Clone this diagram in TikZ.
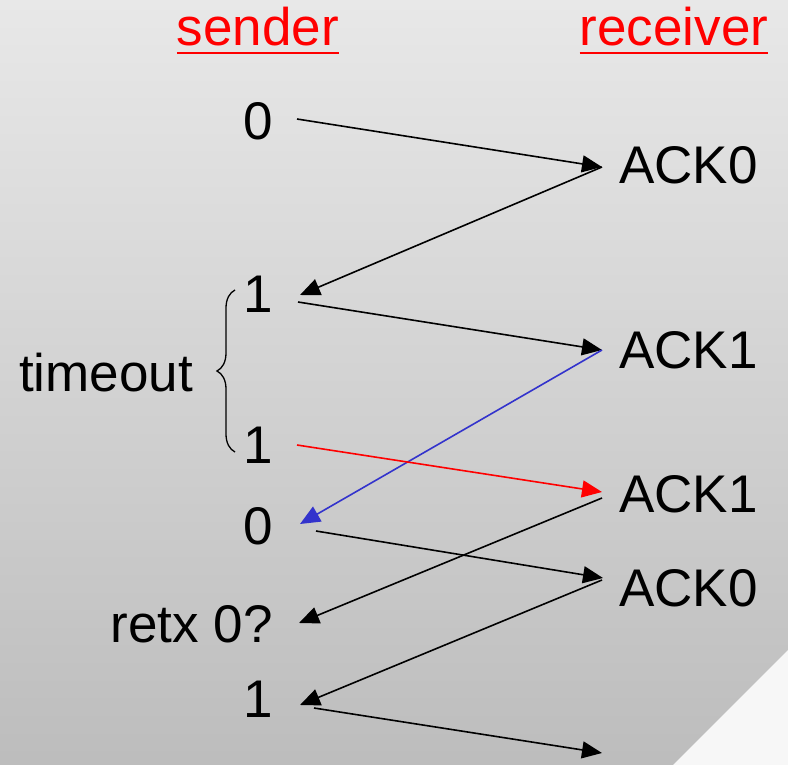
\documentclass[tikz,border=0pt]{standalone}
\usepackage{fontspec}
\setmainfont{Liberation Sans}
\usetikzlibrary{arrows.meta,decorations.pathreplacing,calc}

\definecolor{ackblue}{RGB}{51,51,204}

\begin{document}
\begin{tikzpicture}[x=1pt,y=-1pt,font=\fontsize{53}{60}\selectfont,
  hdr/.style={inner sep=0pt,anchor=base,text=red},
  pkt/.style={inner sep=0pt,anchor=base east},
  ack/.style={inner sep=0pt,anchor=base west},
  msg/.style={line width=1.6pt,-{Triangle[length=20pt,width=17pt]}}]
\useasboundingbox (0,0) rectangle (788,765);
\shade[top color=black!9,bottom color=black!26] (0,0) rectangle (788,765);
\fill[black!3] (673,765) -- (788,650) -- (788,765) -- cycle;

\node[hdr] (sender) at (258,46) {sender};
\node[hdr] (receiver) at (674,46) {receiver};
\draw[red,line width=2.5pt] ($(sender.base west)+(0,7)$) -- ($(sender.base east)+(0,7)$);
\draw[red,line width=2.5pt] ($(receiver.base west)+(0,7)$) -- ($(receiver.base east)+(0,7)$);

\foreach \n/\y/\t in %
{p1/140/0,p2/312/1,p3/463/1,p4/544/0,p5/642/retx 0?,p6/717/1} {
   \node[pkt] (\n) at (273,\y) {\t};
}
\foreach \n/\y/\t in %
{a1/184/ACK0,a2/368/ACK1,a3/512/ACK1,a4/606/ACK0} {
   \node[ack] (\n) at (619,\y) {\t};
}
\node[inner sep=0pt,anchor=base west] (timeout) at (19,391) {timeout};
\draw[line width=1.3pt,decorate,decoration={brace,amplitude=18pt}] (235,452) -- (235,290);

\foreach \n/\x/\y in %
{s1/297/119,r1/602/167,s2/300/295,s3/298/302,r2/602/350,s4/300/524,
 s5/297/445,r3/602/492,r4/602/498,s6/299/623,s7/316/531,r5/603/578,
 r6/602/580,s8/300/705,s9/314/708,r7/602/753} {
   \coordinate (\n) at (\x,\y);
}
\foreach \a/\b/\c in %
{s1/r1/black,r1/s2/black,s3/r2/black,r2/s4/ackblue,s5/r3/red,
 r4/s6/black,s7/r5/black,r6/s8/black,s9/r7/black} {
   \draw[msg,\c] (\a) -- (\b);
}
\end{tikzpicture}
\end{document}
